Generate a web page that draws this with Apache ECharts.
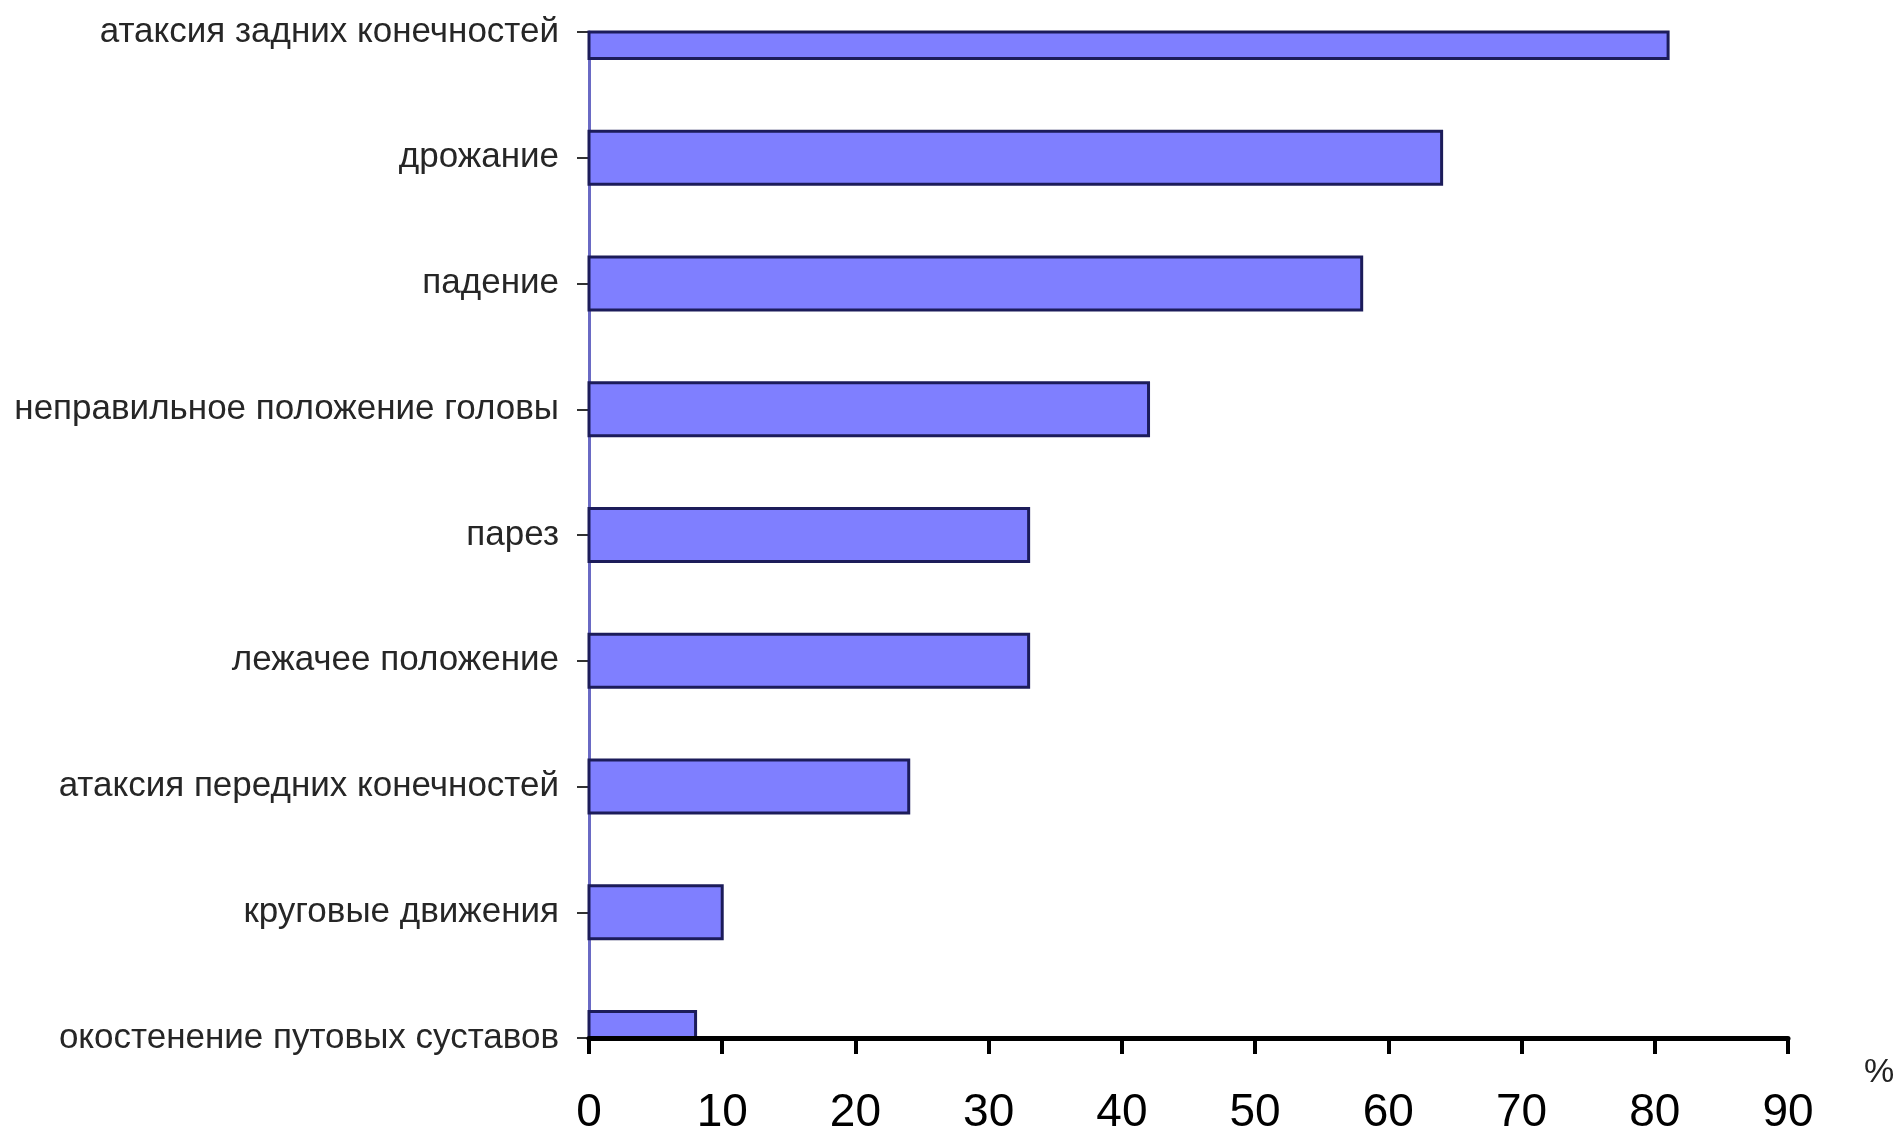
<!DOCTYPE html>
<html>
<head>
<meta charset="utf-8">
<script src="https://cdn.jsdelivr.net/npm/echarts@6/dist/echarts.min.js"></script>
<style>
  html, body { margin: 0; padding: 0; background: #fff; }
  #chart { width: 1893px; height: 1138px; }
</style>
</head>
<body>
<div id="chart"></div>
<script>
// symptoms, top to bottom
const symptoms = [
  'атаксия задних конечностей',
  'дрожание',
  'падение',
  'неправильное положение головы',
  'парез',
  'лежачее положение',
  'атаксия передних конечностей',
  'круговые движения',
  'окостенение путовых суставов',
]
// share of animals, %
const shares = [81, 64, 58, 42, 33, 33, 24, 10, 8]
const xTicks = [0, 10, 20, 30, 40, 50, 60, 70, 80, 90]

const font = '"Liberation Sans", Arial, sans-serif'

// bars sit on the category ticks (Excel "on tick marks"), so the first and
// last bar get cut by the plot area -> draw them as custom rects and clip
function renderBar(params, api) {
  const i = api.value(1)
  const start = api.coord([0, i])
  const end = api.coord([api.value(0), i])
  const h = api.size([0, 1])[1] * 0.42
  const cs = params.coordSys
  const rect = echarts.graphic.clipRectByRect(
    { x: start[0], y: start[1] - h / 2, width: end[0] - start[0], height: h },
    { x: cs.x, y: cs.y, width: cs.width, height: cs.height }
  )
  if (!rect) return
  return {
    type: 'rect',
    shape: rect,
    style: { fill: '#7f7fff', stroke: '#1c1c5a', lineWidth: 3 },
  }
}

const chart = echarts.init(document.getElementById('chart'))
chart.setOption({
  backgroundColor: '#ffffff',
  animation: false,
  grid: { left: 589, right: 105, top: 32, bottom: 100, containLabel: false, outerBoundsMode: 'none' },
  xAxis: {
    type: 'value',
    min: xTicks[0],
    max: xTicks[xTicks.length - 1],
    interval: 10,
    z: 10,
    axisLine: { show: true, lineStyle: { color: '#000', width: 5 } },
    axisTick: { show: true, length: 16, lineStyle: { color: '#000', width: 4 } },
    axisLabel: { color: '#000', fontSize: 46, fontFamily: font, margin: 52 },
    splitLine: { show: false },
  },
  yAxis: {
    type: 'category',
    data: symptoms,
    inverse: true,
    boundaryGap: false,
    axisLine: { show: true, lineStyle: { color: '#6a6ac4', width: 3 } },
    axisTick: { show: true, length: 12, lineStyle: { color: '#333', width: 2 } },
    axisLabel: { color: '#262626', fontSize: 35, fontFamily: font, margin: 30 },
    splitLine: { show: false },
  },
  graphic: [
    { type: 'text', left: 1864, top: 1056,
      style: { text: '%', fontSize: 34, fontFamily: font, fill: '#222' } },
  ],
  series: [{
    type: 'custom',
    renderItem: renderBar,
    encode: { x: 0, y: 1 },
    data: shares.map((v, i) => [v, i]),
  }],
})
</script>
</body>
</html>
